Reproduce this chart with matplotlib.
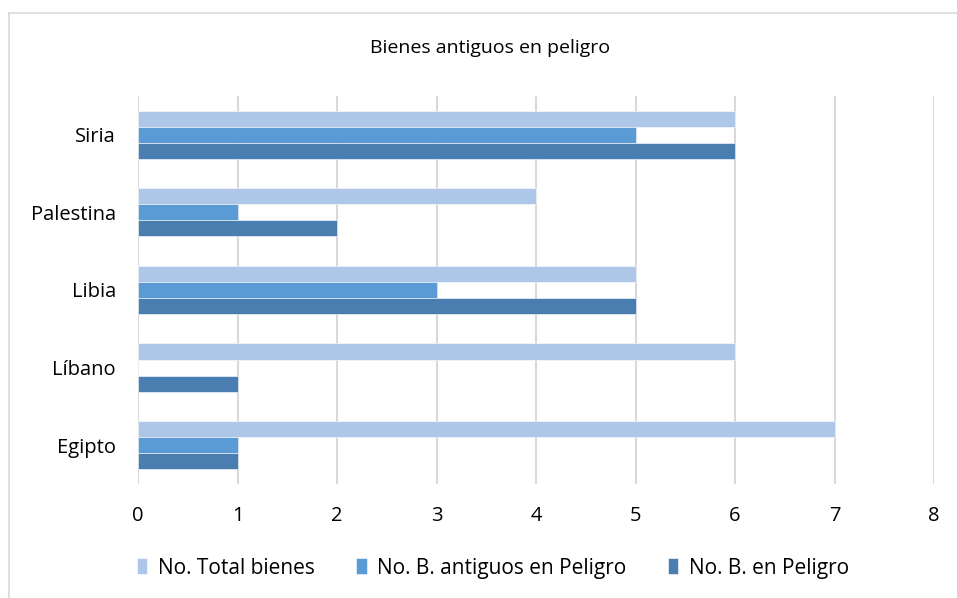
import matplotlib
matplotlib.use("Agg")
import matplotlib.pyplot as plt
from matplotlib.lines import Line2D
import numpy as np

plt.rcParams["font.family"] = ["Open Sans", "DejaVu Sans"]

categories = ["Egipto", "Líbano", "Libia", "Palestina", "Siria"]
total_bienes = [7, 6, 5, 4, 6]
antiguos_peligro = [1, 0, 3, 1, 5]
en_peligro = [1, 1, 5, 2, 6]

series = [
    ("No. Total bienes", total_bienes, "#AEC6E7"),
    ("No. B. antiguos en Peligro", antiguos_peligro, "#5B9BD5"),
    ("No. B. en Peligro", en_peligro, "#4A7EB1"),
]


def main():
    fig = plt.figure(figsize=(9.57, 5.98), dpi=100)
    ax = fig.add_axes([0.1442, 0.1906, 0.8318, 0.649])

    y = np.arange(len(categories))
    h = 0.207
    offsets = [h, 0, -h]
    for (label, vals, color), off in zip(series, offsets):
        ax.barh(y + off, vals, height=h, color=color, label=label,
                edgecolor="white", linewidth=0.4, zorder=3)

    ax.set_xlim(0, 8)
    ax.set_ylim(-0.5, len(categories) - 0.5)
    ax.set_xticks(range(0, 9))
    ax.set_yticks(y)
    ax.set_yticklabels(categories)
    ax.grid(axis="x", color="#D9D9D9", linewidth=1.5, zorder=0)
    for s in ax.spines.values():
        s.set_visible(False)
    ax.tick_params(axis="both", length=0, labelsize=14.5, colors="black")
    ax.tick_params(axis="x", pad=16)
    ax.tick_params(axis="y", pad=16)

    fig.text(0.512, 0.92, "Bienes antiguos en peligro", ha="center",
             va="center", fontsize=14)

    fig.legend(loc="center", bbox_to_anchor=(0.515, 0.05), ncol=3,
               frameon=False, fontsize=15, handlelength=0.5,
               handleheight=0.8, handletextpad=0.5, columnspacing=2.0)

    fig.add_artist(Line2D([9 / 957, 9 / 957], [0, 1 - 13 / 598],
                          transform=fig.transFigure, color="#D9D9D9", lw=1.2))
    fig.add_artist(Line2D([9 / 957, 1], [1 - 13 / 598, 1 - 13 / 598],
                          transform=fig.transFigure, color="#D9D9D9", lw=1.2))

    fig.savefig("out.png", dpi=100)
    plt.close(fig)


if __name__ == "__main__":
    main()
